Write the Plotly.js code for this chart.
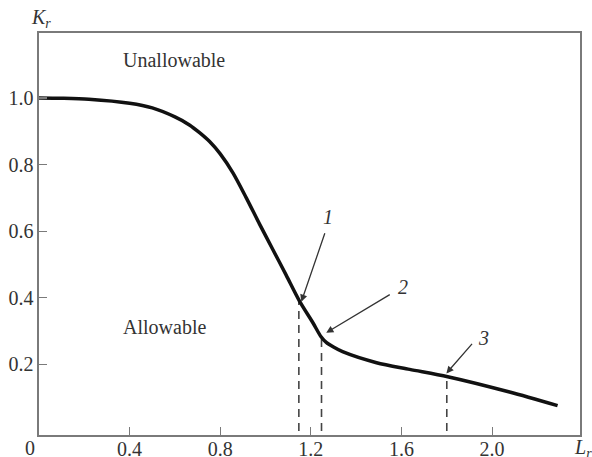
<!DOCTYPE html>
<html>
<head>
<meta charset="utf-8">
<script src="https://cdn.plot.ly/plotly-3.0.1.min.js"></script>
<style>html,body{margin:0;padding:0;background:#fff;}#chart{width:592px;height:457px;}</style>
</head>
<body>
<div id="chart"></div>
<script>
// Curve K_r(L_r)
const curveLr = [0, 0.1, 0.22, 0.4, 0.5, 0.6, 0.664, 0.71, 0.753, 0.8, 0.856, 0.915, 0.973, 1.032, 1.091, 1.15, 1.209, 1.245, 1.268, 1.3, 1.34, 1.49, 1.636, 1.804, 2.077, 2.289];
const curveKr = [1.0, 0.999, 0.996, 0.984, 0.97, 0.943, 0.919, 0.895, 0.869, 0.832, 0.775, 0.70, 0.622, 0.545, 0.468, 0.39, 0.325, 0.283, 0.266, 0.252, 0.238, 0.205, 0.185, 0.163, 0.117, 0.076];
// Dashed markers
const markLr = [1.147, 1.247, 1.8];
const markKr = [0.392, 0.28, 0.163];
const markLabels = ["1", "2", "3"];
// Arrow heads and label positions
const arrowLr = [1.158, 1.268, 1.798];
const arrowKr = [0.388, 0.295, 0.173];
const labelLr = [1.274, 1.605, 1.962];
const labelKr = [0.643, 0.432, 0.279];
// Ticks
const xTicks = [0.4, 0.8, 1.2, 1.6, 2.0];
const xTickText = ["0.4", "0.8", "1.2", "1.6", "2.0"];
const yTicks = [0.2, 0.4, 0.6, 0.8, 1.0];
const yTickText = ["0.2", "0.4", "0.6", "0.8", "1.0"];
// Region labels
const regionText = ["Unallowable", "Allowable"];
const regionLr = [0.36, 0.36];
const regionKr = [1.114, 0.311];

const FONT = "Liberation Serif, Times New Roman, serif";
const TXT = "#333333";
const AX = "#7a7a7a";

const traces = [];
for (let i = 0; i < markLr.length; i++) {
  traces.push({
    x: [markLr[i], markLr[i]], y: [0, markKr[i]],
    mode: "lines", line: {color: "#444", width: 1.6, dash: "8px,6px"},
    hoverinfo: "skip", showlegend: false
  });
}
traces.push({
  x: curveLr, y: curveKr, mode: "lines",
  line: {color: "#111", width: 3.5, shape: "spline", smoothing: 0.8},
  showlegend: false
});

const annotations = [];
for (let i = 0; i < arrowLr.length; i++) {
  const dxPix = [24, 65, 27][i];
  const dyPix = [-70, -39, -31][i];
  annotations.push({
    x: arrowLr[i], y: arrowKr[i], xref: "x", yref: "y",
    text: "", showarrow: true, ax: dxPix, ay: dyPix,
    arrowhead: 2, arrowsize: 1.1, arrowwidth: 1.3, arrowcolor: "#333", standoff: 0
  });
  annotations.push({
    x: labelLr[i], y: labelKr[i], xref: "x", yref: "y",
    text: "<i>" + markLabels[i] + "</i>", showarrow: false,
    font: {family: FONT, size: 20, color: TXT}
  });
}
for (let i = 0; i < regionText.length; i++) {
  annotations.push({
    x: regionLr[i], y: regionKr[i], xref: "x", yref: "y",
    text: regionText[i], showarrow: false, xanchor: "left",
    font: {family: FONT, size: 20, color: TXT}
  });
}
annotations.push({x: 0, y: 0, xref: "x", yref: "paper", text: "0", showarrow: false,
  xanchor: "center", yanchor: "middle", xshift: -9, yshift: -13,
  font: {family: FONT, size: 20, color: TXT}});
annotations.push({x: 0, y: 1, xref: "paper", yref: "paper", text: "<i>K<sub>r</sub></i>", showarrow: false,
  xanchor: "center", yanchor: "bottom", xshift: 2, yshift: 0,
  font: {family: FONT, size: 20, color: TXT}});
annotations.push({x: 1, y: 0, xref: "paper", yref: "paper", text: "<i>L<sub>r</sub></i>", showarrow: false,
  xanchor: "left", yanchor: "middle", xshift: -8, yshift: -13,
  font: {family: FONT, size: 20, color: TXT}});

const layout = {
  width: 592, height: 457,
  margin: {l: 39, r: 12, t: 33, b: 22},
  paper_bgcolor: "#fff", plot_bgcolor: "#fff",
  showlegend: false,
  font: {family: FONT, size: 20, color: TXT},
  xaxis: {
    range: [0, 2.388], tickvals: xTicks, ticktext: xTickText,
    ticks: "inside", ticklen: 8, tickwidth: 1.2, tickcolor: AX,
    ticklabelstandoff: -5,
    showline: true, linecolor: AX, linewidth: 1.6, mirror: true,
    showgrid: false, zeroline: false,
    tickfont: {family: FONT, size: 20, color: TXT}
  },
  yaxis: {
    range: [-0.012, 1.195], tickvals: yTicks, ticktext: yTickText,
    ticks: "inside", ticklen: 8, tickwidth: 1.2, tickcolor: AX,
    showline: true, linecolor: AX, linewidth: 1.6, mirror: true,
    showgrid: false, zeroline: false,
    tickfont: {family: FONT, size: 20, color: TXT}
  },
  annotations: annotations
};

Plotly.newPlot("chart", traces, layout, {staticPlot: true, displayModeBar: false});
</script>
</body>
</html>
